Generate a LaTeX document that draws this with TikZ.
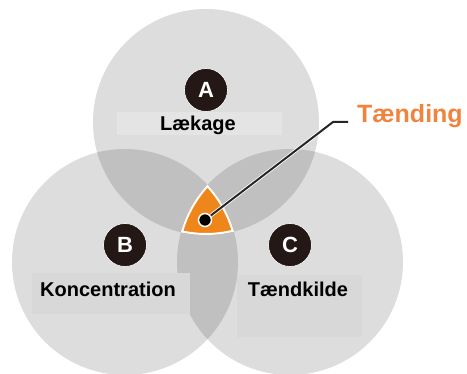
\documentclass[tikz,border=0pt]{standalone}
\usepackage{fontspec}
\setmainfont{Liberation Sans}
\definecolor{singlegrey}{RGB}{221,221,221}
\definecolor{doublegrey}{RGB}{192,192,192}
\definecolor{rectgrey}{RGB}{228,228,228}
\definecolor{rectgreyb}{RGB}{216,216,216}
\definecolor{ignite}{RGB}{238,134,28}
\definecolor{tendtext}{RGB}{240,132,62}
\definecolor{lettbg}{RGB}{35,24,21}
\begin{document}
\begin{tikzpicture}[x=1pt,y=-1pt,
  labeltext/.style={font=\bfseries\fontsize{20}{24}\selectfont, text=black, inner sep=0pt},
  letterdisc/.style={circle, fill=lettbg, draw=white, line width=0.6pt, minimum size=43pt, inner sep=0pt,
    text=white, font=\bfseries\fontsize{22}{26}\selectfont},
  leader/.style={line width=2pt, draw=black!85},
  halo/.style={line width=3.6pt, draw=white}]
\useasboundingbox (0,0) rectangle (467,374);
\fill[white] (0,0) rectangle (467,374);
\coordinate (cA) at (206,122);
\coordinate (cB) at (125,262);
\coordinate (cC) at (290,262);
% single circles
\fill[singlegrey] (cA) circle (113pt);
\fill[singlegrey] (cB) circle (113pt);
\fill[singlegrey] (cC) circle (113pt);
% pairwise overlaps
\begin{scope}
  \clip (cA) circle (113pt);
  \fill[doublegrey] (cB) circle (113pt);
  \fill[doublegrey] (cC) circle (113pt);
\end{scope}
\begin{scope}
  \clip (cB) circle (113pt);
  \fill[doublegrey] (cC) circle (113pt);
\end{scope}
% label backgrounds
\fill[rectgrey] (117,112) rectangle (282,135);
\fill[rectgreyb] (32,273) rectangle (190,314);
\fill[rectgreyb] (237,275) rectangle (362,337);
% triple overlap
\begin{scope}
  \clip (cA) circle (113pt);
  \clip (cB) circle (113pt);
  \clip (cC) circle (113pt);
  \fill[ignite] (cC) circle (113pt);
  \draw[white, line width=4pt] (cA) circle (113pt);
  \draw[white, line width=4pt] (cB) circle (113pt);
  \draw[white, line width=4pt] (cC) circle (113pt);
\end{scope}
% letters
\node[letterdisc] (la) at (206,90) {A};
\node[letterdisc] (lb) at (125,245) {B};
\node[letterdisc] (lc) at (290,245) {C};
% labels
\node[labeltext] (tA) at (198,125) {Lækage};
\node[labeltext] (tB) at (108,289) {Koncentration};
\node[labeltext] (tC) at (298,289) {Tændkilde};
\node[font=\bfseries\fontsize{25}{30}\selectfont, text=tendtext, inner sep=0pt, anchor=west] (tD) at (357,116) {Tænding};
% leader
\coordinate (bend) at (333,122);
\coordinate (lend) at (348,122);
\draw[halo] (205,220) -- (bend) -- (lend);
\draw[leader] (205,220) -- (bend) -- (lend);
\node[circle, fill=black, draw=white, line width=1.5pt, minimum size=13pt, inner sep=0pt] (dot) at (205,220) {};
\end{tikzpicture}
\end{document}
